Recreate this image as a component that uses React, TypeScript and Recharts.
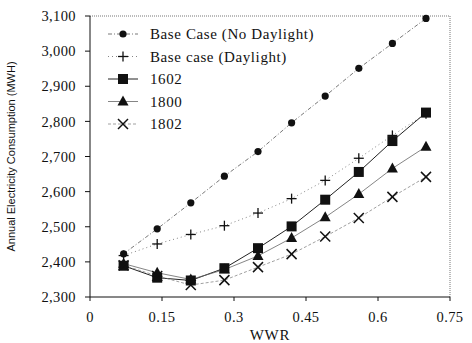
import React from 'react';
import {
  LineChart,
  Line,
  XAxis,
  YAxis,
  ReferenceLine,
} from 'recharts';

// Window-to-wall ratio sampled in each simulation run
const wwr = [0.07, 0.14, 0.21, 0.28, 0.35, 0.42, 0.49, 0.56, 0.63, 0.7];

// Annual electricity consumption, MWH
const baseNoDaylight = [2423, 2494, 2568, 2644, 2714, 2796, 2872, 2951, 3022, 3093];
const baseDaylight = [2418, 2451, 2478, 2503, 2539, 2580, 2632, 2695, 2760, 2822];
const glazing1602 = [2389, 2355, 2347, 2382, 2439, 2501, 2577, 2656, 2744, 2825];
const glazing1800 = [2395, 2369, 2350, 2378, 2417, 2468, 2527, 2593, 2666, 2728];
const glazing1802 = [2390, 2360, 2334, 2348, 2385, 2422, 2472, 2525, 2585, 2642];

const xTicks = [0, 0.15, 0.3, 0.45, 0.6, 0.75];
const yTicks = [2300, 2400, 2500, 2600, 2700, 2800, 2900, 3000, 3100];

type MarkerKind = 'dot' | 'plus' | 'square' | 'triangle' | 'cross';

interface SeriesDef {
  key: string;
  name: string;
  values: number[];
  marker: MarkerKind;
  stroke: string;
  width: number;
  dash?: string;
}

const SERIES: SeriesDef[] = [
  { key: 'noDay', name: 'Base Case (No Daylight)', values: baseNoDaylight, marker: 'dot', stroke: '#555', width: 0.8, dash: '4 2 1 2' },
  { key: 'day', name: 'Base case (Daylight)', values: baseDaylight, marker: 'plus', stroke: '#666', width: 0.8, dash: '1 3' },
  { key: 'g1602', name: '1602', values: glazing1602, marker: 'square', stroke: '#222', width: 1 },
  { key: 'g1800', name: '1800', values: glazing1800, marker: 'triangle', stroke: '#666', width: 0.8 },
  { key: 'g1802', name: '1802', values: glazing1802, marker: 'cross', stroke: '#888', width: 0.8, dash: '3 2' },
];

const data = wwr.map((x, i) => {
  const row: Record<string, number> = { wwr: x };
  SERIES.forEach((s) => {
    row[s.key] = s.values[i];
  });
  return row;
});

const SERIF = '"Liberation Serif", "Times New Roman", serif';
const INK = '#111';

function Marker({ kind, cx, cy }: { kind: MarkerKind; cx: number; cy: number }) {
  switch (kind) {
    case 'dot':
      return <circle cx={cx} cy={cy} r={3.6} fill={INK} />;
    case 'plus':
      return (
        <g stroke={INK} strokeWidth={1.3}>
          <line x1={cx - 5} y1={cy} x2={cx + 5} y2={cy} />
          <line x1={cx} y1={cy - 5} x2={cx} y2={cy + 5} />
        </g>
      );
    case 'square':
      return <rect x={cx - 5} y={cy - 5} width={10} height={10} fill={INK} />;
    case 'triangle':
      return <polygon points={`${cx},${cy - 6} ${cx - 5.5},${cy + 4} ${cx + 5.5},${cy + 4}`} fill={INK} />;
    case 'cross':
      return (
        <g stroke={INK} strokeWidth={1.5}>
          <line x1={cx - 5} y1={cy - 5} x2={cx + 5} y2={cy + 5} />
          <line x1={cx - 5} y1={cy + 5} x2={cx + 5} y2={cy - 5} />
        </g>
      );
  }
}

function LegendBox() {
  return (
    <svg
      width={260}
      height={120}
      style={{ position: 'absolute', left: 100, top: 22, overflow: 'visible' }}
    >
      {SERIES.map((s, i) => {
        const y = 12 + i * 22.5;
        return (
          <g key={s.key}>
            <line
              x1={8}
              y1={y}
              x2={38}
              y2={y}
              stroke={s.stroke}
              strokeWidth={s.width}
              strokeDasharray={s.dash}
            />
            <Marker kind={s.marker} cx={23} cy={y} />
            <text
              x={50}
              y={y + 5}
              fontFamily={SERIF}
              fontSize={15}
              letterSpacing={0.6}
              fill={INK}
            >
              {s.name}
            </text>
          </g>
        );
      })}
    </svg>
  );
}

export default function App() {
  return (
    <div
      style={{
        position: 'absolute',
        left: 0,
        top: 0,
        width: 472,
        height: 343,
        background: '#fff',
      }}
    >
      <LineChart
        width={472}
        height={343}
        data={data}
        margin={{ top: 16, right: 22, bottom: 0, left: 0 }}
      >
        <XAxis
          type="number"
          dataKey="wwr"
          domain={[0, 0.75]}
          ticks={xTicks}
          height={46}
          stroke={INK}
          tickSize={4}
          tickMargin={11}
          tick={{ fontFamily: SERIF, fontSize: 14.5, fill: INK, letterSpacing: 0.4 }}
          label={{
            value: 'WWR',
            position: 'insideBottom',
            offset: 3,
            fontFamily: SERIF,
            fontSize: 15,
            letterSpacing: 0.8,
            fill: INK,
          }}
        />
        <YAxis
          type="number"
          domain={[2300, 3100]}
          ticks={yTicks}
          width={90}
          stroke={INK}
          tickSize={5}
          tickMargin={9}
          tickFormatter={(v: number) => v.toLocaleString('en-US')}
          tick={{ fontFamily: SERIF, fontSize: 14.5, fill: INK, letterSpacing: 0.4 }}
          label={{
            value: 'Annual Electricity Consumption (MWH)',
            angle: -90,
            position: 'insideLeft',
            offset: 11,
            style: { textAnchor: 'middle' },
            fontFamily: '"Liberation Sans", Arial, sans-serif',
            fontSize: 11,
            fill: INK,
          }}
        />
        <ReferenceLine y={3100} stroke="#777" strokeDasharray="1 1" />
        <ReferenceLine x={0.75} stroke="#777" strokeDasharray="1 1" />
        {SERIES.map((s) => (
          <Line
            key={s.key}
            dataKey={s.key}
            name={s.name}
            type="linear"
            stroke={s.stroke}
            strokeWidth={s.width}
            strokeDasharray={s.dash}
            isAnimationActive={false}
            dot={(p: { cx?: number; cy?: number; index?: number }) => (
              <Marker key={`${s.key}-${p.index}`} kind={s.marker} cx={p.cx ?? 0} cy={p.cy ?? 0} />
            )}
            activeDot={false}
          />
        ))}
      </LineChart>
      <LegendBox />
    </div>
  );
}
